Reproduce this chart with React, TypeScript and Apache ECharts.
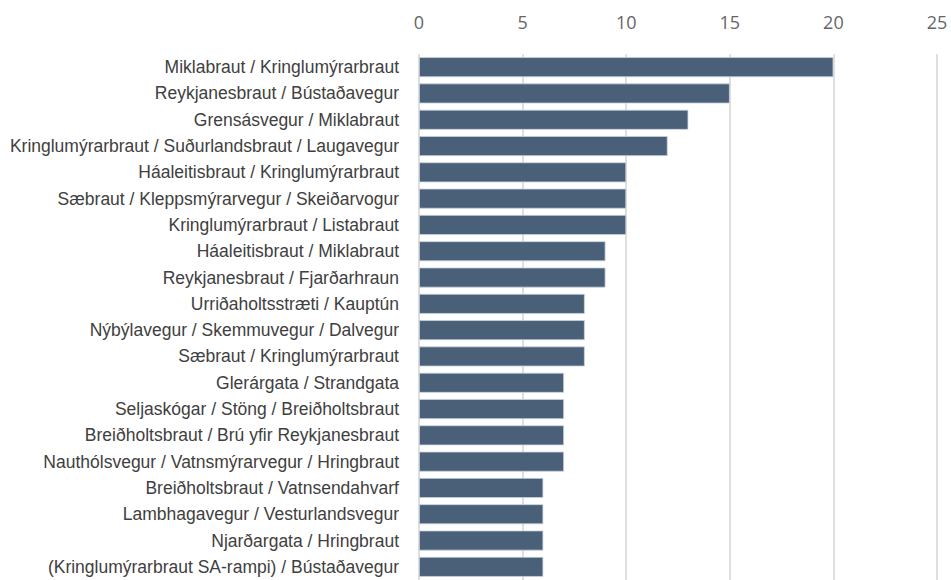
import React, { useEffect, useRef } from "react";
import * as echarts from "echarts";

const categories: string[] = [
  "Miklabraut / Kringlumýrarbraut",
  "Reykjanesbraut / Bústaðavegur",
  "Grensásvegur / Miklabraut",
  "Kringlumýrarbraut / Suðurlandsbraut / Laugavegur",
  "Háaleitisbraut / Kringlumýrarbraut",
  "Sæbraut / Kleppsmýrarvegur / Skeiðarvogur",
  "Kringlumýrarbraut / Listabraut",
  "Háaleitisbraut / Miklabraut",
  "Reykjanesbraut / Fjarðarhraun",
  "Urriðaholtsstræti / Kauptún",
  "Nýbýlavegur / Skemmuvegur / Dalvegur",
  "Sæbraut / Kringlumýrarbraut",
  "Glerárgata / Strandgata",
  "Seljaskógar / Stöng / Breiðholtsbraut",
  "Breiðholtsbraut / Brú yfir Reykjanesbraut",
  "Nauthólsvegur / Vatnsmýrarvegur / Hringbraut",
  "Breiðholtsbraut / Vatnsendahvarf",
  "Lambhagavegur / Vesturlandsvegur",
  "Njarðargata / Hringbraut",
  "(Kringlumýrarbraut SA-rampi) / Bústaðavegur",
];

const values: number[] = [20, 15, 13, 12, 10, 10, 10, 9, 9, 8, 8, 8, 7, 7, 7, 7, 6, 6, 6, 6];

const axisMin = 0;
const axisMax = 25;
const axisInterval = 5;

export default function App() {
  const ref = useRef<HTMLDivElement>(null);

  useEffect(() => {
    if (!ref.current) return;
    const chart = echarts.init(ref.current, undefined, { renderer: "svg" });
    chart.setOption({
      animation: false,
      backgroundColor: "#ffffff",
      grid: { left: 419, right: 14, top: 54, bottom: -1, containLabel: false },
      xAxis: {
        type: "value",
        position: "top",
        min: axisMin,
        max: axisMax,
        interval: axisInterval,
        axisLine: { show: false },
        axisTick: { show: false },
        axisLabel: {
          margin: 23,
          color: "#666666",
          fontSize: 18,
          fontFamily: "Open Sans",
        },
        splitLine: { show: true, lineStyle: { color: "#d4d4d4", width: 1.5 } },
      },
      yAxis: {
        type: "category",
        data: categories,
        inverse: true,
        axisLine: { show: false },
        axisTick: { show: false },
        axisLabel: {
          margin: 20,
          color: "#404040",
          fontSize: 17.5,
          fontFamily: "Arial, 'Liberation Sans', sans-serif",
        },
      },
      series: [
        {
          type: "bar",
          data: values,
          barWidth: 20,
          itemStyle: { color: "#4a5f78", borderColor: "#c9d3de", borderWidth: 0.8 },
        },
      ],
    });
    return () => chart.dispose();
  }, []);

  return (
    <div
      ref={ref}
      style={{ position: "absolute", left: 0, top: 0, width: 951, height: 580 }}
    />
  );
}
